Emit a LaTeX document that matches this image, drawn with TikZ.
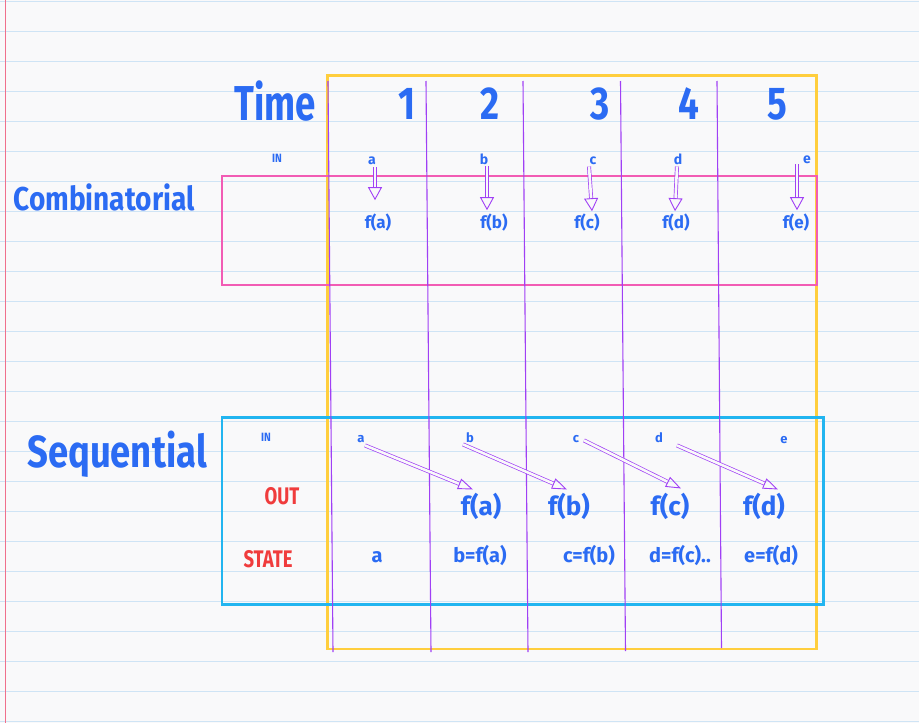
\documentclass[tikz,border=0pt]{standalone}
\usepackage{fontspec}
\usepackage{graphicx}
\setmainfont{Fira Sans}
\usetikzlibrary{arrows.meta}
\definecolor{tblue}{HTML}{2B6BF3}
\definecolor{tred}{HTML}{F03C3C}
\definecolor{bxpink}{HTML}{F25CB4}
\definecolor{bxyellow}{HTML}{FFCE3D}
\definecolor{bxcyan}{HTML}{22B5F0}
\definecolor{vpurple}{HTML}{A040F5}
\definecolor{pagebg}{HTML}{F9F9FA}
\definecolor{ruled}{HTML}{CFE4F5}
\definecolor{margin}{HTML}{F0708C}
\newcommand\sqz[2]{\scalebox{#1}[1]{#2}}
\newcommand\fs[1]{\fontsize{#1}{#1}\selectfont}
\tikzset{
  txt/.style={text=tblue, font=\bfseries, inner sep=1pt, anchor=base},
  redtxt/.style={text=tred, font=\bfseries, inner sep=1pt, anchor=base},
  box/.style={line width=2.2pt},
  colline/.style={draw=vpurple, line width=1.1pt},
  dblarrow/.style={draw=vpurple, line width=0.7pt, double=pagebg, double distance=2.6pt,
    -{Triangle[open, length=13pt, width=14pt, line width=0.9pt]}},
  seqarrow/.style={draw=vpurple, line width=0.7pt, double=pagebg, double distance=2.6pt,
    -{Triangle[open, length=15pt, width=11pt, line width=0.9pt]}}
}
\begin{document}
\begin{tikzpicture}[x=1pt, y=-1pt]
\useasboundingbox (0,0) rectangle (919,723);
\fill[pagebg] (0,0) rectangle (919,723);
\foreach \k in {0,...,24} {\draw[ruled, line width=1.2pt] (0,{1.7+30*\k}) -- (919,{1.7+30*\k});}
\draw[margin, line width=1.2pt] (5.5,0) -- (5.5,723);

% boxes
\draw[box, bxyellow] (327.5,75.5) rectangle (816.5,649);
\draw[box, bxpink, line width=1.8pt] (222,176) rectangle (817,285);
\draw[box, bxcyan] (222,417.5) rectangle (823.5,604.5);

% column lines
\draw[colline] (328,81) -- (333,652);
\draw[colline] (426,81) -- (431,652);
\draw[colline] (523,81) -- (528,652);
\draw[colline] (620.5,81) -- (625.5,651);
\draw[colline] (717,81) -- (721.5,648);

% header
\node[txt] (time) at (275,120) {\fs{49}\sqz{0.75}{Time}};
\node[txt] (t1) at (407,119) {\fs{46}\sqz{0.8}{1}};
\node[txt] (t2) at (490,119) {\fs{46}\sqz{0.8}{2}};
\node[txt] (t3) at (600,119) {\fs{46}\sqz{0.8}{3}};
\node[txt] (t4) at (689,119) {\fs{46}\sqz{0.8}{4}};
\node[txt] (t5) at (777,119) {\fs{46}\sqz{0.8}{5}};

% combinatorial
\node[txt] (comb) at (104,210) {\fs{33}\sqz{0.85}{Combinatorial}};
\node[txt] (cin) at (277,162) {\fs{12}\sqz{0.85}{IN}};
\node[txt] (ca) at (372,164) {\fs{14}a};
\node[txt] (cb) at (484,164) {\fs{14}b};
\node[txt] (cc) at (593,164) {\fs{14}c};
\node[txt] (cd) at (678,164) {\fs{14}d};
\node[txt] (ce) at (807,163) {\fs{14}e};
\node[txt] (cfa) at (378,228) {\fs{17}f(a)};
\node[txt] (cfb) at (494,228) {\fs{17}f(b)};
\node[txt] (cfc) at (587,228) {\fs{17}f(c)};
\node[txt] (cfd) at (676,228) {\fs{17}f(d)};
\node[txt] (cfe) at (796,228) {\fs{17}f(e)};

\draw[dblarrow] ([xshift=3pt,yshift=-2pt]ca.south) -- ([xshift=-3pt,yshift=12pt]cfa.north);
\draw[dblarrow] ([xshift=3pt,yshift=-1pt]cb.south) -- ([xshift=-7pt,yshift=2pt]cfb.north);
\draw[dblarrow] ([xshift=-4pt,yshift=-1pt]cc.south) -- ([xshift=5pt,yshift=1pt]cfc.north);
\draw[dblarrow] ([xshift=-1pt,yshift=-1pt]cd.south) -- ([xshift=-1pt,yshift=1pt]cfd.north);
\draw[dblarrow] ([xshift=-10pt,yshift=0pt]ce.south) -- ([xshift=1pt,yshift=2pt]cfe.north);

% sequential
\node[txt] (seq) at (117,467) {\fs{45}\sqz{0.81}{Sequential}};
\node[txt] (sin) at (266,441) {\fs{12}\sqz{0.85}{IN}};
\node[redtxt] (out) at (282,504) {\fs{24}\sqz{0.77}{OUT}};
\node[redtxt] (state) at (268,567) {\fs{24}\sqz{0.77}{STATE}};
\node[txt] (sa) at (361,442) {\fs{13}a};
\node[txt] (sb) at (470,442) {\fs{13}b};
\node[txt] (sc) at (576,442) {\fs{13}c};
\node[txt] (sd) at (659,442) {\fs{13}d};
\node[txt] (se) at (784,443) {\fs{13}e};
\node[txt] (ofa) at (481,515) {\fs{26}f(a)};
\node[txt] (ofb) at (569,515) {\fs{26}f(b)};
\node[txt] (ofc) at (670,515) {\fs{26}f(c)};
\node[txt] (ofd) at (764,515) {\fs{26}f(d)};
\node[txt] (sta) at (377,562) {\fs{20}a};
\node[txt] (stb) at (480,562) {\fs{20}b=f(a)};
\node[txt] (stc) at (589,562) {\fs{20}c=f(b)};
\node[txt] (std) at (680,562) {\fs{20}d=f(c)..};
\node[txt] (ste) at (771,562) {\fs{20}e=f(d)};

\draw[seqarrow] ([xshift=4pt,yshift=-2pt]sa.south) -- ([xshift=-8pt,yshift=2pt]ofa.north);
\draw[seqarrow] ([xshift=-7pt,yshift=-1pt]sb.south) -- ([xshift=-2pt,yshift=2pt]ofb.north);
\draw[seqarrow] ([xshift=8pt,yshift=3pt]sc.south) -- ([xshift=11pt,yshift=3pt]ofc.north);
\draw[seqarrow] ([xshift=18pt,yshift=-2pt]sd.south) -- ([xshift=14pt,yshift=2pt]ofd.north);
\end{tikzpicture}
\end{document}
